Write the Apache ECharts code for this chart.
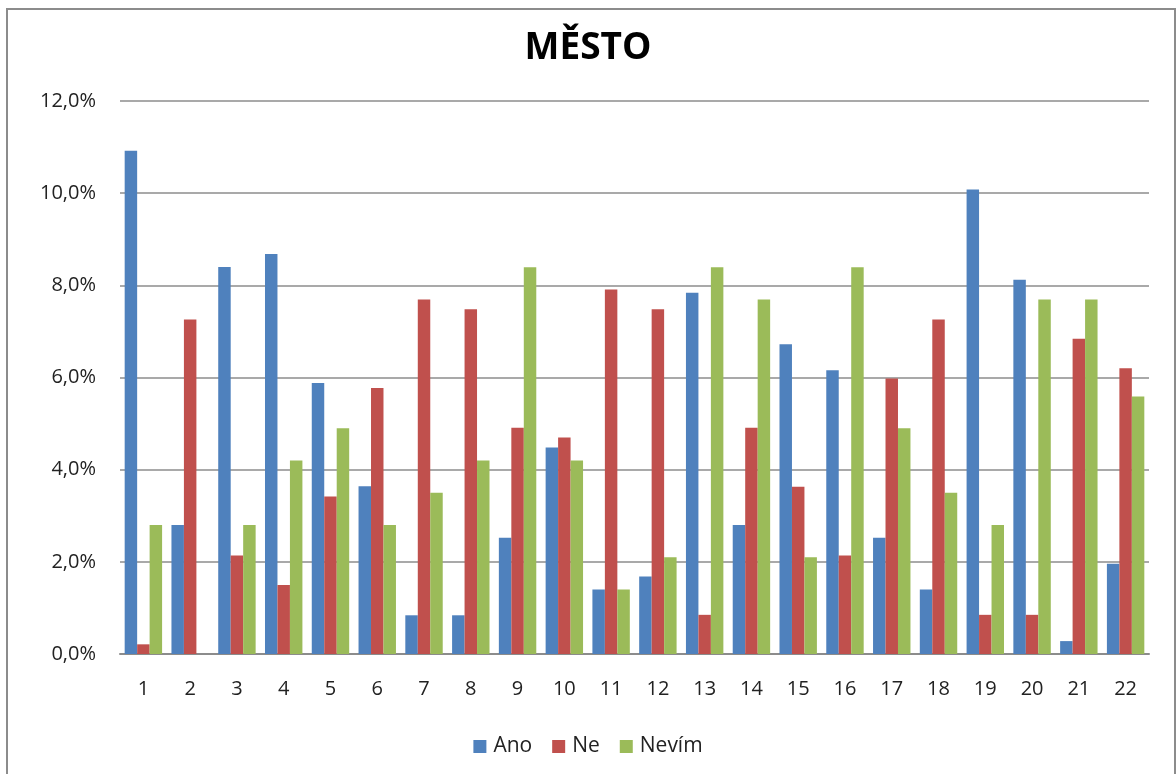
<!DOCTYPE html>
<html>
<head>
<meta charset="utf-8">
<script src="https://cdn.jsdelivr.net/npm/echarts@6/dist/echarts.min.js"></script>
<style>
  html, body { margin: 0; padding: 0; background: #fff; }
  #frame {
    position: absolute; left: 6px; top: 8px; width: 1170px; height: 780px;
    border: 2px solid #8c8c8c; box-sizing: border-box;
  }
  #chart { position: absolute; left: 0; top: 0; width: 1176px; height: 774px; }
</style>
</head>
<body>
<div id="frame"></div>
<div id="chart"></div>
<script>
// Question numbers along the x axis
const categories = ['1','2','3','4','5','6','7','8','9','10','11','12','13','14','15','16','17','18','19','20','21','22'];

// Share of answers per question, in percent
const ano   = [10.92, 2.80, 8.40, 8.68, 5.88, 3.64, 0.84, 0.84, 2.52, 4.48, 1.40, 1.68, 7.84, 2.80, 6.72, 6.16, 2.52, 1.40, 10.08, 8.12, 0.28, 1.96];
const ne    = [0.21, 7.26, 2.14, 1.50, 3.42, 5.77, 7.69, 7.48, 4.91, 4.70, 7.91, 7.48, 0.85, 4.91, 3.63, 2.14, 5.98, 7.26, 0.85, 0.85, 6.84, 6.20];
const nevim = [2.80, 0, 2.80, 4.20, 4.90, 2.80, 3.50, 4.20, 8.39, 4.20, 1.40, 2.10, 8.39, 7.69, 2.10, 8.39, 4.90, 3.50, 2.80, 7.69, 7.69, 5.59];

const seriesNames = ['Ano', 'Ne', 'Nevím'];
const colors = ['#4F81BD', '#C0504D', '#9BBB59'];

const font = '"Open Sans", "Noto Sans", sans-serif';

const chart = echarts.init(document.getElementById('chart'));
chart.setOption({
  animation: false,
  color: colors,
  title: {
    text: 'MĚSTO',
    left: 'center',
    top: 25,
    textStyle: { fontFamily: font, fontSize: 37, fontWeight: 'bold', color: '#000' }
  },
  legend: {
    bottom: 12,
    left: 'center',
    itemWidth: 13,
    itemHeight: 13,
    itemGap: 20,
    icon: 'rect',
    textStyle: { fontFamily: font, fontSize: 21, color: '#222', padding: [0, 0, 0, 2] },
    data: seriesNames
  },
  grid: { left: 120, right: 27, top: 101, bottom: 120, containLabel: false },
  xAxis: {
    type: 'category',
    data: categories,
    axisLine: { lineStyle: { color: '#8c8c8c', width: 2 } },
    axisTick: { show: false },
    axisLabel: { fontFamily: font, fontSize: 20, color: '#222', margin: 25 }
  },
  yAxis: {
    type: 'value',
    min: 0, max: 12, interval: 2,
    axisLine: { show: false },
    axisTick: { show: false },
    splitLine: { lineStyle: { color: '#8c8c8c', width: 1.5 } },
    axisLabel: {
      fontFamily: font, fontSize: 20, color: '#222', margin: 24,
      formatter: v => v.toFixed(1).replace('.', ',') + '%'
    }
  },
  series: [
    { name: seriesNames[0], type: 'bar', data: ano,   barGap: '0%', barCategoryGap: '20%' },
    { name: seriesNames[1], type: 'bar', data: ne,    barGap: '0%', barCategoryGap: '20%' },
    { name: seriesNames[2], type: 'bar', data: nevim, barGap: '0%', barCategoryGap: '20%' }
  ]
});
</script>
</body>
</html>
